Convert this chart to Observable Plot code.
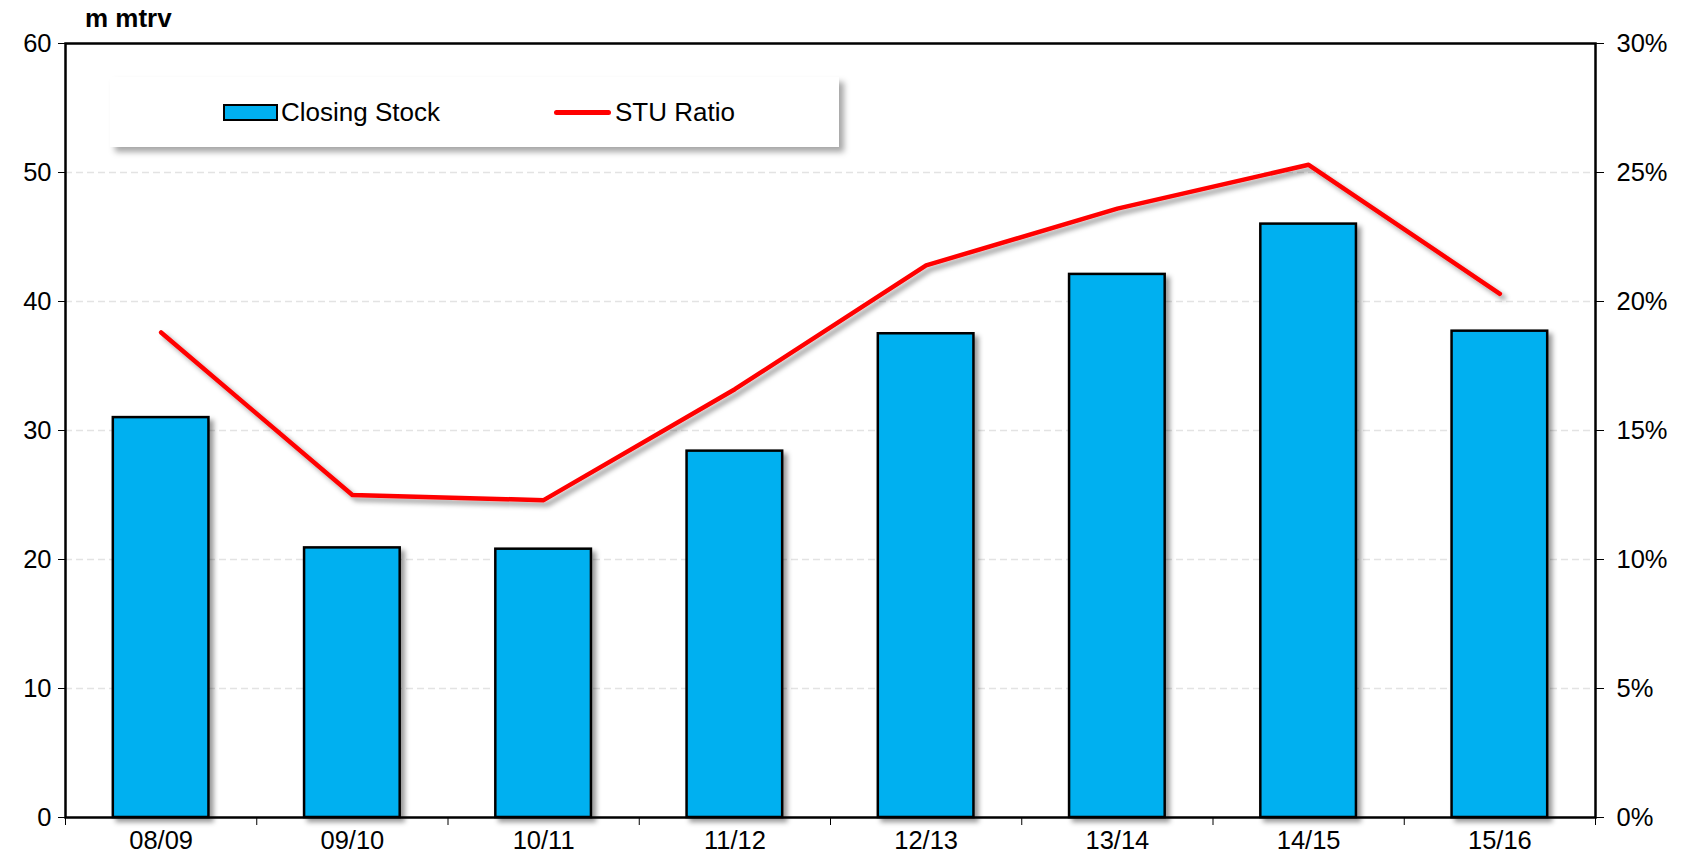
<!DOCTYPE html>
<html>
<head>
<meta charset="utf-8">
<script src="https://cdn.jsdelivr.net/npm/d3@7"></script>
<script src="https://cdn.jsdelivr.net/npm/@observablehq/plot@0.6"></script>
<style>
  body { margin: 0; background: #fff; }
  #wrap { position: relative; width: 1686px; height: 864px; font-family: "Liberation Sans", Arial, sans-serif; }
  #title { position: absolute; left: 85px; top: 5px; font-size: 26px; font-weight: bold; line-height: 1; }
  #legend { position: absolute; left: 110px; top: 77px; width: 729px; height: 70px; background: #fff;
            box-shadow: 5px 5px 6px rgba(0,0,0,0.35); font-size: 26px; }
  .item { position: absolute; top: 0; height: 70px; display: flex; align-items: center; }
  .sw-bar { width: 51px; height: 13px; background: #00B0F0; border: 2px solid #000; margin-right: 3px; }
  .sw-line { width: 57px; height: 5px; background: #ff0000; border-radius: 3px; margin-right: 4px; }
</style>
</head>
<body>
<div id="wrap">
  <div id="chart"></div>
  <div id="title">m mtrv</div>
  <div id="legend">
    <div class="item" style="left:113px"><div class="sw-bar"></div><span>Closing Stock</span></div>
    <div class="item" style="left:444px"><div class="sw-line"></div><span>STU Ratio</span></div>
  </div>
</div>
<script>
const categories = ["08/09","09/10","10/11","11/12","12/13","13/14","14/15","15/16"];
const closingStock = [31.0, 20.9, 20.8, 28.4, 37.5, 42.1, 46.0, 37.7];
const stuRatio = [18.8, 12.5, 12.3, 16.6, 21.4, 23.6, 25.3, 20.3];
const leftTicks = [0, 10, 20, 30, 40, 50, 60];
const gridTicks = [10, 20, 30, 40, 50];
const rightTicks = [0, 5, 10, 15, 20, 25, 30];

const data = categories.map((c, i) => ({ i, c, stock: closingStock[i], stu: stuRatio[i] }));

const chart = Plot.plot({
  width: 1686, height: 864,
  marginLeft: 65, marginRight: 91, marginTop: 43, marginBottom: 47,
  style: { fontFamily: "'Liberation Sans', Arial, sans-serif", fontSize: "25.5px", color: "#000", background: "#fff" },
  x: { type: "linear", domain: [0, categories.length] },
  y: { domain: [0, 60] },
  marks: [
    Plot.ruleY(gridTicks, { stroke: "#e3e3e3", strokeDasharray: "7,4", strokeWidth: 1.5 }),
    Plot.rectY(data, { x1: d => d.i + 0.25, x2: d => d.i + 0.75, y1: 0, y2: "stock",
                       fill: "#00B0F0", stroke: "#000", strokeWidth: 2.5 }),
    Plot.line(data, { x: d => d.i + 0.5, y: d => d.stu * 2, stroke: "#ff0000", strokeWidth: 4.5 }),
    Plot.frame({ stroke: "#000", strokeWidth: 2.5 }),
    Plot.axisY(leftTicks, { anchor: "left", tickSize: 7, tickPadding: 7, label: null }),
    Plot.axisY(rightTicks.map(d => d * 2), { anchor: "right", tickSize: 8, tickPadding: 13,
                                             tickFormat: d => `${d / 2}%`, label: null }),
    Plot.axisX(d3.range(categories.length + 1), { anchor: "bottom", tickSize: 8, tickFormat: () => "", label: null }),
    Plot.axisX(d3.range(categories.length).map(i => i + 0.5), { anchor: "bottom", tickSize: 0, tickPadding: 13,
                                                 tickFormat: v => categories[Math.floor(v)], label: null })
  ]
});
document.getElementById("chart").appendChild(chart);

// drop shadows on bars and line
const svg = d3.select(chart);
const defs = svg.insert("defs", ":first-child");
const f = defs.append("filter").attr("id", "shadow").attr("x", "-10%").attr("y", "-10%").attr("width", "130%").attr("height", "130%");
f.append("feDropShadow").attr("dx", 4).attr("dy", 4).attr("stdDeviation", 2.5).attr("flood-color", "#000").attr("flood-opacity", 0.4);
svg.selectAll('g[aria-label="rect"], g[aria-label="line"]').attr("filter", "url(#shadow)");
</script>
</body>
</html>
